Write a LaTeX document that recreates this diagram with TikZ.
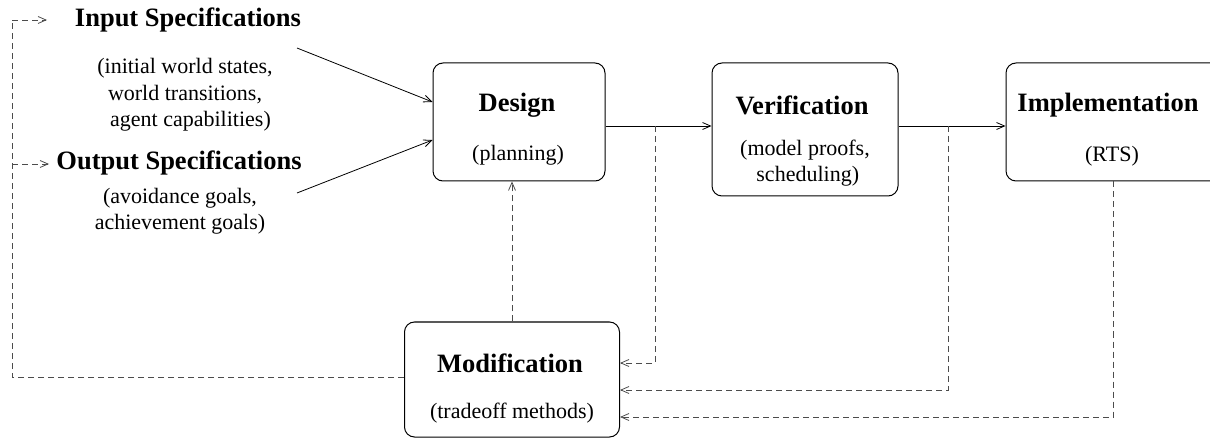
\documentclass[tikz,border=0pt]{standalone}
\usepackage{fontspec}
\setmainfont{Liberation Serif}
\usetikzlibrary{arrows.meta}
\tikzset{
  boxnode/.style={draw, rounded corners=10pt, line width=1pt, inner sep=0pt},
  ttl/.style={font=\fontsize{26.5}{32}\selectfont\bfseries, inner sep=0pt},
  sub/.style={font=\fontsize{22}{26.5}\selectfont, align=center, inner sep=0pt},
  conn/.style={line width=0.8pt},
  dconn/.style={line width=0.8pt, draw=black!70, dash pattern=on 6pt off 4pt},
  tip/.style={-{Straight Barb[length=8pt,width=7pt]}}
}
\begin{document}
\begin{tikzpicture}[x=1pt,y=-1pt]
\useasboundingbox (0,0) rectangle (1210,438);
\clip (0,0) rectangle (1210,438);
% boxes
\node[boxnode, minimum width=172pt, minimum height=118pt] (design) at (519,122) {};
\node[boxnode, minimum width=186pt, minimum height=133pt] (verif) at (805,129.5) {};
\node[boxnode, minimum width=230pt, minimum height=118pt] (impl) at (1121,122) {};
\node[boxnode, minimum width=215pt, minimum height=115pt] (modif) at (512,379.5) {};
% texts
\node[ttl] (tdesign) at (517,105) {Design};
\node[sub] (sdesign) at (518,155) {(planning)};
\node[ttl] (tverif) at (802,105) {Verification};
\node[sub] (sverif) at (805,163) {(model proofs,\\ \ scheduling)};
\node[ttl] (timpl) at (1108,105) {Implementation};
\node[sub] (simpl) at (1112,156) {(RTS)};
\node[ttl] (tmodif) at (510,363) {Modification};
\node[sub] (smodif) at (512,413) {(tradeoff methods)};
\node[ttl] (inspec) at (188,20) {Input Specifications};
\node[sub] (insub) at (185,95) {(initial world states,\\ world transitions,\\ \ \ agent capabilities)};
\node[ttl] (outspec) at (179,163) {Output Specifications};
\node[sub] (outsub) at (180,211) {(avoidance goals,\\ achievement goals)};
% coordinates
\coordinate (in1) at (297,48);
\coordinate (in2) at (297,193);
\coordinate (b1) at (655,126);
\coordinate (b2) at (948,126);
\coordinate (lc) at (12,377);
\coordinate (ltop) at (12,20);
\coordinate (lmid) at (12,164);
\coordinate (inTip) at (47,20);
\coordinate (outTip) at (49,164);
% solid connectors
\draw[conn, tip] (in1) -- (design.west |- 0,102);
\draw[conn, tip] (in2) -- (design.west |- 0,140);
\draw[conn, tip] (design.east |- 0,126) -- (verif.west |- 0,126);
\draw[conn, tip] (verif.east |- 0,126) -- (impl.west |- 0,126);
% dashed feedback
\draw[dconn, tip] (b1) |- (modif.east |- 0,363);
\draw[dconn, tip] (b2) |- (modif.east |- 0,390);
\draw[dconn, tip] (impl.south -| 1113,0) |- (modif.east |- 0,417);
\draw[dconn, tip] (modif.north) -- (modif.north |- design.south);
\draw[dconn] (modif.west |- lc) -- (lc) -- (ltop);
\draw[dconn, tip] (ltop) -- (inTip);
\draw[dconn, tip] (lmid) -- (outTip);
\end{tikzpicture}
\end{document}
